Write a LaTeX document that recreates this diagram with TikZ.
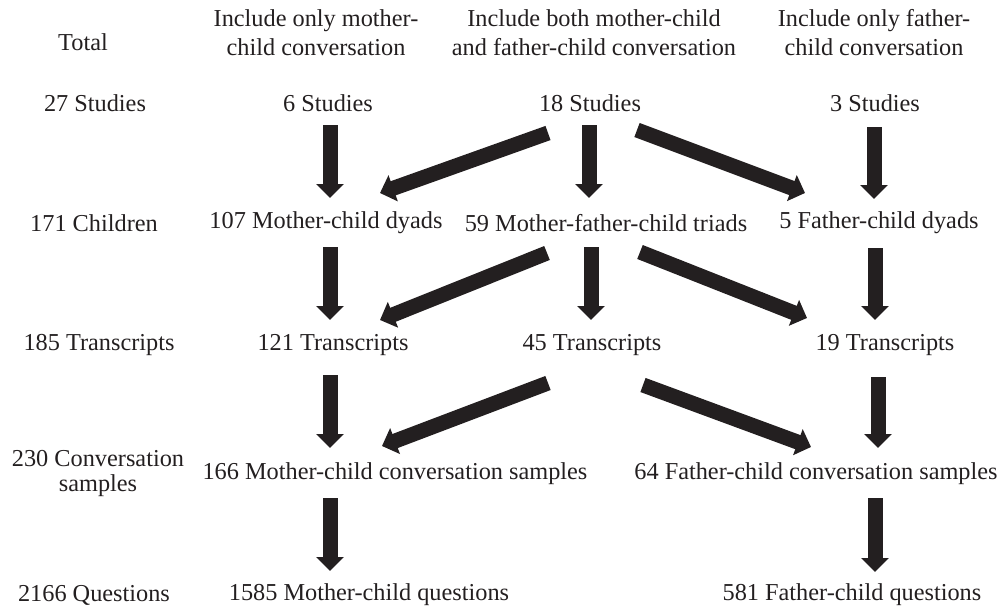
\documentclass[tikz,border=0pt]{standalone}
\usepackage{fontspec}
\setmainfont{Liberation Serif}
\usetikzlibrary{arrows.meta,calc}
\definecolor{ink}{rgb}{0.137,0.122,0.125}
\tikzset{
  lbl/.style={inner sep=0pt, text=ink, font=\fontsize{24.3}{29}\selectfont, align=center},
  arr/.style={draw=ink, line width=15pt, -{Triangle[width=27pt,length=14pt]}}
}
\begin{document}
\begin{tikzpicture}[x=1pt,y=-1pt]
\useasboundingbox (0,0) rectangle (1002,610);
% headers
\node[lbl] (htot) at (83,42) {Total};
\node[lbl] (h1) at (316,33) {Include only mother-\\child conversation};
\node[lbl] (h2) at (594,33) {Include both mother-child\\and father-child conversation};
\node[lbl] (h3) at (874,33) {Include only father-\\child conversation};
% row 1
\node[lbl] (t1) at (95,103) {27 Studies};
\node[lbl] (s1) at (328,103) {6 Studies};
\node[lbl] (s2) at (590,103) {18 Studies};
\node[lbl] (s3) at (875,103) {3 Studies};
% row 2
\node[lbl] (t2) at (94,223) {171 Children};
\node[lbl] (d1) at (326,223) {107 Mother-child dyads};
\node[lbl] (d2) at (606,223) {59 Mother-father-child triads};
\node[lbl] (d3) at (879,223) {5 Father-child dyads};
% row 3
\node[lbl] (t3) at (99,345) {185 Transcripts};
\node[lbl] (r1) at (333,345) {121 Transcripts};
\node[lbl] (r2) at (592,345) {45 Transcripts};
\node[lbl] (r3) at (885,345) {19 Transcripts};
% row 4
\node[lbl, font=\fontsize{24.3}{25}\selectfont] (t4) at (98,474) {230 Conversation\\samples};
\node[lbl] (c1) at (395,474) {166 Mother-child conversation samples};
\node[lbl] (c2) at (816,474) {64 Father-child conversation samples};
% row 5
\node[lbl] (t5) at (94,595) {2166 Questions};
\node[lbl] (q1) at (369,595) {1585 Mother-child questions};
\node[lbl] (q2) at (852,595) {581 Father-child questions};
% arrows row1 -> row2
\draw[arr] ($(s1)+(2,22)$) -- ($(d1)+(4,-25)$);
\draw[arr] ($(s2)+(-42,30)$) -- ($(d1)+(54,-30)$);
\draw[arr] ($(s2)+(-1,22)$) -- ($(d2)+(-17,-25)$);
\draw[arr] ($(s2)+(47,27)$) -- ($(d3)+(-74,-30)$);
\draw[arr] ($(s3)+(-1,24)$) -- ($(d3)+(-5,-24)$);
% row2 -> row3
\draw[arr] ($(d1)+(4,24)$) -- ($(r1)+(-3,-25)$);
\draw[arr] ($(d2)+(-59,30)$) -- ($(r1)+(47,-25)$);
\draw[arr] ($(d2)+(-15,24)$) -- ($(r2)+(-1,-25)$);
\draw[arr] ($(d2)+(34,29)$) -- ($(r3)+(-78,-27)$);
\draw[arr] ($(d3)+(-4,25)$) -- ($(r3)+(-10,-25)$);
% row3 -> row4
\draw[arr] ($(r1)+(-3,30)$) -- ($(c1)+(-65,-26)$);
\draw[arr] ($(r2)+(-44,38)$) -- ($(c1)+(-13,-28)$);
\draw[arr] ($(r2)+(51,40)$) -- ($(c2)+(-5,-27)$);
\draw[arr] ($(r3)+(-7,32)$) -- ($(c2)+(62,-26)$);
% row4 -> row5
\draw[arr] ($(c1)+(-65,24)$) -- ($(q1)+(-39,-24)$);
\draw[arr] ($(c2)+(59,24)$) -- ($(q2)+(23,-23)$);
\end{tikzpicture}
\end{document}
